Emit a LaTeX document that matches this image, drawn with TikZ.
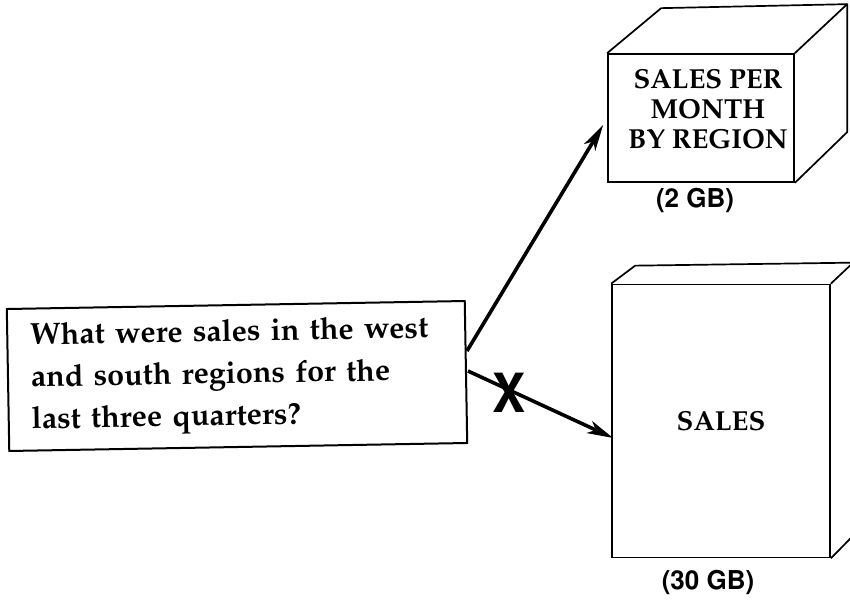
\documentclass[tikz,border=0pt]{standalone}
\usepackage[T1]{fontenc}
\usepackage{mathpazo}
\usepackage{helvet}
\usepackage{graphicx}
\usetikzlibrary{arrows.meta,calc}

\tikzset{
  facebox/.style={draw, line width=1.7pt, fill=white, inner sep=0pt},
  edgeline/.style={line width=1.7pt, line join=round},
  querybox/.style={draw, line width=2pt, inner sep=0pt, minimum width=458pt,
    minimum height=142pt, text width=412pt, align=left,
    font=\fontsize{30.5}{42}\selectfont\bfseries},
  cubetext/.style={align=center, font=\fontsize{27.5}{30}\selectfont\bfseries},
  sizelabel/.style={font=\fontfamily{phv}\fontsize{26}{28}\selectfont\bfseries},
  flow/.style={line width=3.6pt,
    -{Stealth[length=26pt,width=13pt,inset=7pt]}},
}

\begin{document}
\begin{tikzpicture}[x=1pt,y=-1pt]
\useasboundingbox (0,0) rectangle (850,599);

% the query
\node[querybox, rotate=1] (q) at (237,376)
  {What were sales in the west\\ and south regions for the\\ last three quarters?};

% small aggregate cube
\node[facebox, minimum width=186pt, minimum height=128pt] (agg) at (701,118) {};
\draw[edgeline] (agg.north west) -- ++(54,-45) -- ++(186,-4) coordinate (aggbr)
  -- ++(0,128) -- (agg.south east);
\draw[edgeline] (agg.north east) -- (aggbr);
\node[cubetext] (aggtext) at (708,109) {SALES PER\\ MONTH\\ BY REGION};
\node[sizelabel] (agglab) at (695,201) {(2 GB)};

% large detail box
\node[facebox, minimum width=218pt, minimum height=273pt,
  font=\fontsize{27.5}{30}\selectfont\bfseries] (det) at (721,421) {SALES};
\draw[edgeline] (det.north west) -- ++(24,-18) -- ++(218,-3) coordinate (detbr)
  -- ++(0,273) -- (det.south east);
\draw[edgeline] (det.north east) -- (detbr);
\node[sizelabel] (detlab) at (708,583) {(30 GB)};

% query routes
\coordinate (s1) at ($(q.east)+(0,-21)$);
\coordinate (s2) at ($(q.east)+(1,-1)$);
\coordinate (e1) at ($(agg.west)+(-4,7)$);
\coordinate (e2) at ($(det.west)+(2,17)$);
\draw[flow] (s1) -- (e1);
\draw[flow] (s2) -- (e2);

% rejected route marker
\node[font=\fontfamily{phv}\fontsize{54}{54}\selectfont\bfseries, inner sep=0pt]
  (nogo) at (509,393) {\scalebox{0.92}[1]{X}};
\end{tikzpicture}
\end{document}
